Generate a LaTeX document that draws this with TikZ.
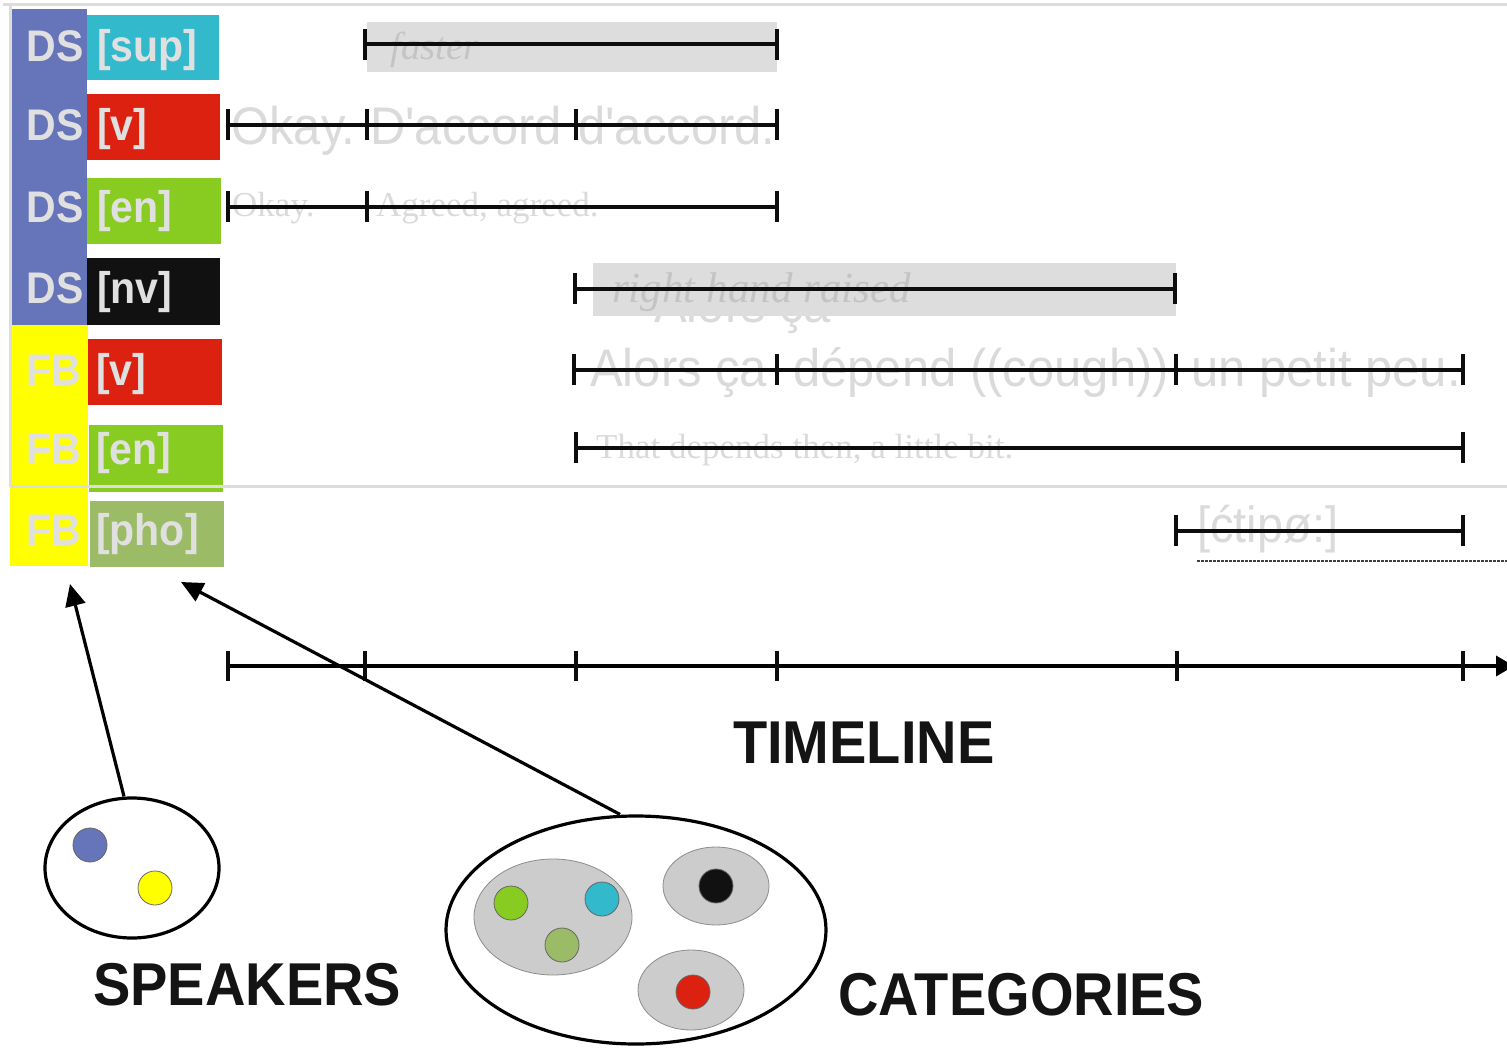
\documentclass[tikz,border=0pt]{standalone}
\usepackage{fontspec}
\usepackage{graphicx}
\setmainfont{Liberation Serif}
\setsansfont{Liberation Sans}
\usetikzlibrary{arrows.meta,shapes.geometric}
\definecolor{dsblue}{HTML}{6674B9}
\definecolor{supcyan}{HTML}{32B9CC}
\definecolor{vred}{HTML}{DC2111}
\definecolor{engreen}{HTML}{88CC22}
\definecolor{nvblack}{HTML}{111111}
\definecolor{fbyellow}{HTML}{FFFF00}
\definecolor{phoolive}{HTML}{9BBB66}
\definecolor{lbltext}{HTML}{E0E0E0}
\definecolor{ghost}{HTML}{DADADA}
\definecolor{ghostdark}{HTML}{C4C4C4}
\definecolor{band}{HTML}{DDDDDD}
\definecolor{framegray}{HTML}{DCDCDC}
\definecolor{setgray}{HTML}{CCCCCC}
\newcommand\vst[1]{\scalebox{1}[1.08]{#1}}
\begin{document}
\begin{tikzpicture}[x=1pt,y=-1pt,
  cell/.style={anchor=north west, inner sep=0pt, outer sep=0pt, draw=none},
  lbl/.style={text=lbltext, font=\sffamily\bfseries\fontsize{41}{41}\selectfont, inner sep=0pt, anchor=base west},
  spkl/.style={lbl, anchor=base},
  gsans/.style={text=ghost, font=\sffamily\fontsize{49}{49}\selectfont, inner sep=0pt, anchor=base west},
  gserif/.style={text=ghost, font=\rmfamily\fontsize{35}{35}\selectfont, inner sep=0pt, anchor=base west},
  gital/.style={text=ghostdark, font=\rmfamily\itshape\fontsize{#1}{#1}\selectfont, inner sep=0pt, anchor=base west},
  segline/.style={line width=3.4pt, black!95},
  tickline/.style={line width=4pt, black!95},
  framel/.style={line width=3pt, framegray},
  title/.style={font=\sffamily\bfseries\fontsize{56}{56}\selectfont, inner sep=0pt, anchor=base west, text=black!92},
  setring/.style={ellipse, draw=black, line width=3.2pt, inner sep=0pt, fill=white},
  subset/.style={ellipse, draw=black!45, line width=0.8pt, fill=setgray, inner sep=0pt},
  dot/.style={ellipse, draw=black!60, line width=0.8pt, inner sep=0pt, minimum width=34pt, minimum height=34pt},
  pointer/.style={line width=3.2pt, -{Triangle[length=22pt,width=20pt]}},
]
\useasboundingbox (0,0) rectangle (1507,1048);

% speaker columns
\node[cell, fill=dsblue, minimum width=75pt, minimum height=316pt] (dscol) at (12,9) {};
\node[cell, fill=fbyellow, minimum width=78pt, minimum height=241pt] (fbcol) at (10,325) {};

% category cells
\node[cell, fill=supcyan, minimum width=132pt, minimum height=65pt] (csup) at (87,15) {};
\node[cell, fill=vred, minimum width=133pt, minimum height=66pt] (cdsv) at (87,94) {};
\node[cell, fill=engreen, minimum width=134pt, minimum height=66pt] (cdsen) at (87,178) {};
\node[cell, fill=nvblack, minimum width=133pt, minimum height=67pt] (cdsnv) at (87,258) {};
\node[cell, fill=vred, minimum width=134pt, minimum height=66pt] (cfbv) at (88,339) {};
\node[cell, fill=engreen, minimum width=134pt, minimum height=67pt] (cfben) at (89,425) {};
\node[cell, fill=phoolive, minimum width=134pt, minimum height=66pt] (cfbpho) at (90,501) {};

% frame lines
\draw[framel] (3,5) -- (1507,5);
\draw[framel] (10,5) -- (10,487);
\draw[framel] (10,486) -- (1507,486);

% labels
\node[spkl] (s1) at (55,62) {\vst{DS}};
\node[spkl] (s2) at (55,141) {\vst{DS}};
\node[spkl] (s3) at (55,223) {\vst{DS}};
\node[spkl] (s4) at (55,304) {\vst{DS}};
\node[spkl] (s5) at (54,385) {\vst{FB}};
\node[spkl] (s6) at (54,464) {\vst{FB}};
\node[spkl] (s7) at (54,545) {\vst{FB}};
\node[lbl] (l1) at (97,62) {\vst{[sup]}};
\node[lbl] (l2) at (97,141) {\vst{[v]}};
\node[lbl] (l3) at (97,223) {\vst{[en]}};
\node[lbl] (l4) at (97,304) {\vst{[nv]}};
\node[lbl] (l5) at (96,385) {\vst{[v]}};
\node[lbl] (l6) at (96,464) {\vst{[en]}};
\node[lbl] (l7) at (96,545) {\vst{[pho]}};

% row 1
\fill[band] (367,22) rectangle (777,72);
\node[gital=39] (t1) at (390,60) {faster};
\draw[segline] (365,44) -- (777,44);
\foreach \x in {365,777} \draw[tickline] (\x,29) -- (\x,60);

% row 2
\node[gsans] (t2a) at (231,145) {\vst{Okay.}};
\node[gsans] (t2b) at (370,145) {\vst{D\textquotesingle accord}};
\node[gsans] (t2c) at (578,145) {\vst{d\textquotesingle accord.}};
\draw[segline] (228,125) -- (777,125);
\foreach \x in {228,367,576,777} \draw[tickline] (\x,109) -- (\x,140);

% row 3
\node[gserif] (t3a) at (232,217) {Okay.};
\node[gserif] (t3b) at (376,217) {Agreed, agreed.};
\draw[segline] (228,207) -- (777,207);
\foreach \x in {228,367,777} \draw[tickline] (\x,191) -- (\x,222);

% row 4
\node[gsans] (t4g) at (654,323) {\vst{Alors ça}};
\fill[band] (593,263) rectangle (1176,316);
\node[gital=43] (t4) at (612,303) {right hand raised};
\draw[segline] (575,289) -- (1175,289);
\foreach \x in {575,1175} \draw[tickline] (\x,273) -- (\x,304);

% row 5
\node[gsans] (t5a) at (590,386) {\vst{Alors ça}};
\node[gsans] (t5b) at (793,386) {\vst{dépend ((cough))}};
\node[gsans] (t5c) at (1191,386) {\vst{un petit peu.}};
\draw[segline] (574,370) -- (1463,370);
\foreach \x in {574,777,1176,1463} \draw[tickline] (\x,354) -- (\x,385);

% row 6
\node[gserif] (t6) at (596,458) {That depends then, a little bit.};
\draw[segline] (576,448) -- (1463,448);
\foreach \x in {576,1463} \draw[tickline] (\x,432) -- (\x,463);

% row 7
\node[gsans, font=\sffamily\fontsize{47}{47}\selectfont] (t7) at (1197,542) {\vst{[ćtipø:]}};
\draw[segline] (1176,531) -- (1463,531);
\foreach \x in {1176,1463} \draw[tickline] (\x,515) -- (\x,546);
\draw[line width=1.6pt, black!75, dash pattern=on 3pt off 1pt] (1197,561) -- (1507,561);

% timeline
\draw[line width=3.6pt, -{Triangle[length=18pt,width=20pt]}] (228,666) -- (1514,666);
\foreach \x in {228,365,576,777,1177,1463} \draw[tickline] (\x,651) -- (\x,681);
\node[title] (tl) at (733,763) {\vst{TIMELINE}};

% speakers set
\node[setring, minimum width=174pt, minimum height=140pt] (spk) at (132,868) {};
\node[dot, fill=dsblue] (dblue) at (90,845) {};
\node[dot, fill=fbyellow] (dyel) at (155,888) {};
\node[title] (spkt) at (93,1005) {\vst{SPEAKERS}};

% categories set
\node[setring, minimum width=380pt, minimum height=228pt] (cat) at (636,930) {};
\node[subset, minimum width=158pt, minimum height=116pt] (g1) at (553,917) {};
\node[subset, minimum width=106pt, minimum height=78pt] (g2) at (716,886) {};
\node[subset, minimum width=106pt, minimum height=80pt] (g3) at (691,990) {};
\node[dot, fill=engreen] (dgreen) at (511,903) {};
\node[dot, fill=supcyan] (dcyan) at (602,899) {};
\node[dot, fill=phoolive] (dolive) at (562,945) {};
\node[dot, fill=nvblack] (dblack) at (716,886) {};
\node[dot, fill=vred] (dred) at (693,992) {};
\node[title] (catt) at (838,1015) {\vst{CATEGORIES}};

% pointers
\coordinate (spktip) at (70,584);
\coordinate (cattip) at (181,582);
\draw[pointer] ([xshift=-8pt]spk.north) -- (spktip);
\draw[pointer] ([xshift=-16pt]cat.north) -- (cattip);
\end{tikzpicture}
\end{document}
